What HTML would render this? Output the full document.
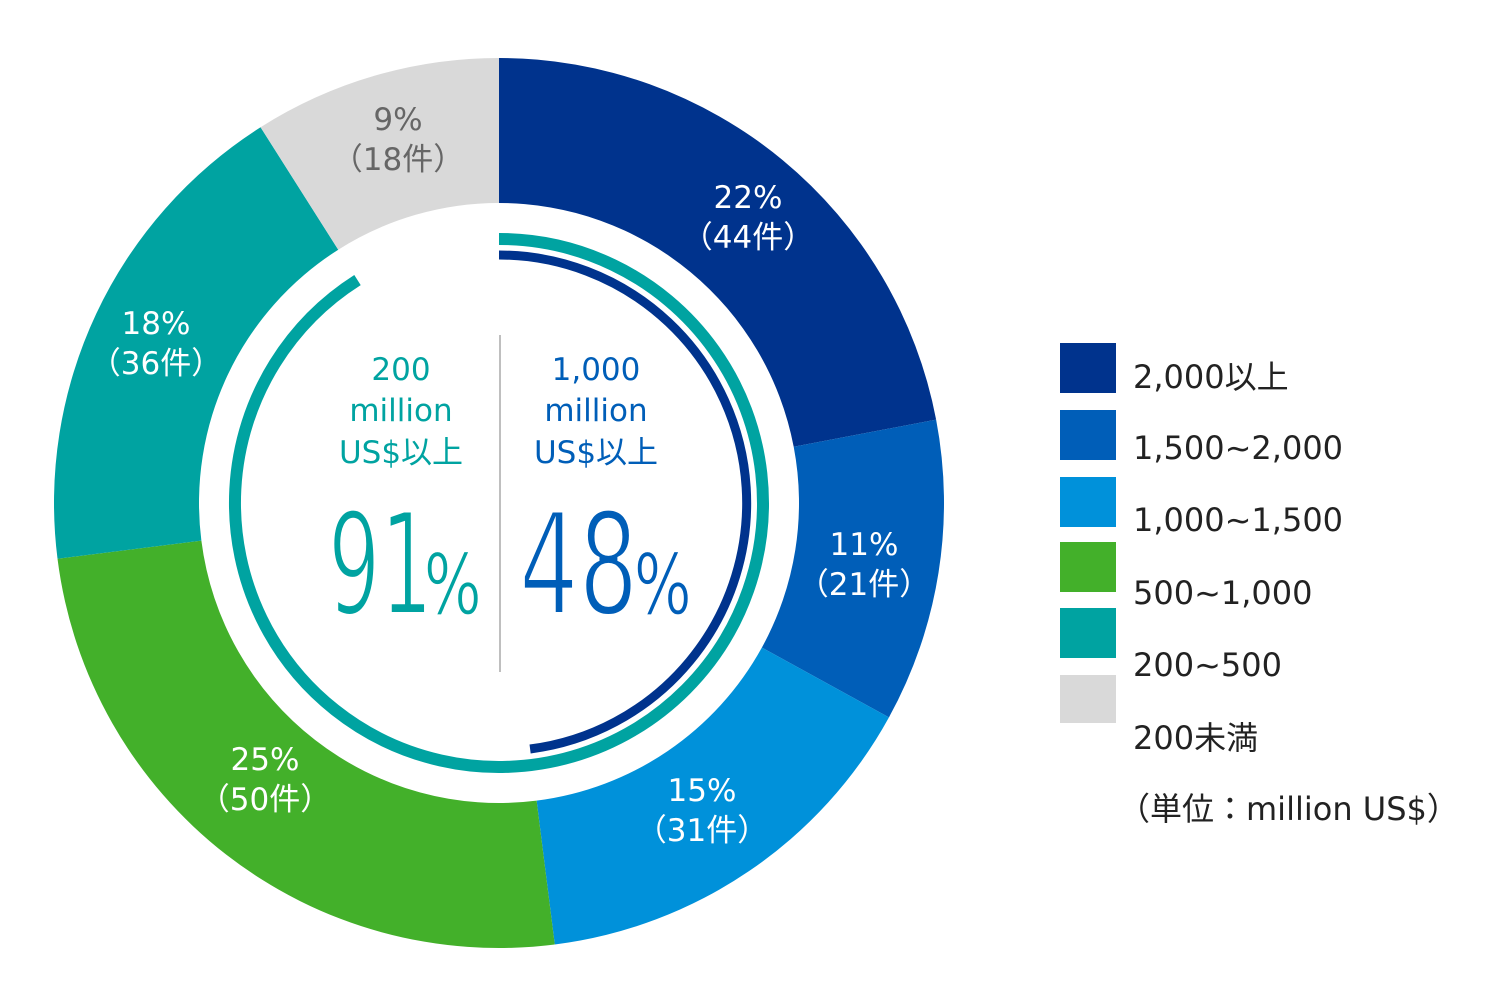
<!DOCTYPE html>
<html><head><meta charset="utf-8"><style>
body{margin:0;background:#fff;}
svg text{font-family:"DejaVu Sans","Noto Sans CJK JP",sans-serif;}
</style></head><body>
<svg width="1500" height="1000" viewBox="0 0 1500 1000" xmlns="http://www.w3.org/2000/svg">
<path fill="#00338d" d="M499 58 A445 445 0 0 1 936.12 419.62 L793.69 446.79 A300 300 0 0 0 499 203 Z"/>
<path fill="#005eb8" d="M936.12 419.62 A445 445 0 0 1 888.96 717.38 L761.89 647.53 A300 300 0 0 0 793.69 446.79 Z"/>
<path fill="#0091da" d="M888.96 717.38 A445 445 0 0 1 554.77 944.49 L536.60 800.63 A300 300 0 0 0 761.89 647.53 Z"/>
<path fill="#43b02a" d="M554.77 944.49 A445 445 0 0 1 57.51 558.77 L201.37 540.60 A300 300 0 0 0 536.60 800.63 Z"/>
<path fill="#00a3a1" d="M57.51 558.77 A445 445 0 0 1 260.56 127.27 L338.25 249.70 A300 300 0 0 0 201.37 540.60 Z"/>
<path fill="#d9d9d9" d="M260.56 127.27 A445 445 0 0 1 499 58 L499 203 A300 300 0 0 0 338.25 249.70 Z"/>
<path d="M499 239 A264 264 0 1 1 357.5 280.1" fill="none" stroke="#00a3a1" stroke-width="12"/>
<path d="M499 255 A248 248 0 0 1 530.1 749" fill="none" stroke="#00338d" stroke-width="9"/>
<line x1="500" y1="335" x2="500" y2="672" stroke="#aaa" stroke-width="1.5"/>
<g font-size="31" text-anchor="middle" fill="#00a3a1">
<text x="401" y="380">200</text><text x="401" y="421">million</text><text x="401" y="463">US$以上</text>
</g>
<g font-size="31" text-anchor="middle" fill="#005eb8">
<text x="596" y="380">1,000</text><text x="596" y="421">million</text><text x="596" y="463">US$以上</text>
</g>
<g style="font-family:'Liberation Sans',sans-serif" stroke="#fff">
<text x="0" y="0" font-size="142" fill="#00a3a1" stroke-width="4" transform="translate(328,614) scale(0.58,1)">91</text>
<text x="0" y="0" font-size="84" fill="#00a3a1" stroke-width="1.2" transform="translate(424,614) scale(0.72,1)">%</text>
<text x="0" y="0" font-size="142" fill="#005eb8" stroke-width="4" transform="translate(519,614) scale(0.66,1)">48</text>
<text x="0" y="0" font-size="84" fill="#005eb8" stroke-width="1.2" transform="translate(634,614) scale(0.72,1)">%</text>
</g>
<g font-size="31" text-anchor="middle">
<text x="748" y="208" fill="#fff">22%</text><text x="748" y="248" fill="#fff">（44件）</text>
<text x="864" y="555" fill="#fff">11%</text><text x="864" y="595" fill="#fff">（21件）</text>
<text x="702" y="801" fill="#fff">15%</text><text x="702" y="841" fill="#fff">（31件）</text>
<text x="265" y="770" fill="#fff">25%</text><text x="265" y="810" fill="#fff">（50件）</text>
<text x="156" y="334" fill="#fff">18%</text><text x="156" y="374" fill="#fff">（36件）</text>
<text x="398" y="130" fill="#666">9%</text><text x="398" y="170" fill="#666">（18件）</text>
</g>
<g>
<rect x="1060" y="343" width="56" height="50" fill="#00338d"/>
<rect x="1060" y="410" width="56" height="50" fill="#005eb8"/>
<rect x="1060" y="477" width="56" height="50" fill="#0091da"/>
<rect x="1060" y="542" width="56" height="50" fill="#43b02a"/>
<rect x="1060" y="608" width="56" height="50" fill="#00a3a1"/>
<rect x="1060" y="675" width="56" height="48" fill="#d9d9d9"/>
</g>
<g font-size="32" fill="#222">
<text x="1133" y="388">2,000以上</text>
<text x="1133" y="459">1,500~2,000</text>
<text x="1133" y="531">1,000~1,500</text>
<text x="1133" y="604">500~1,000</text>
<text x="1133" y="676">200~500</text>
<text x="1133" y="749">200未満</text>
<text x="1118" y="820">（単位：million US$）</text>
</g>
</svg>
</body></html>
